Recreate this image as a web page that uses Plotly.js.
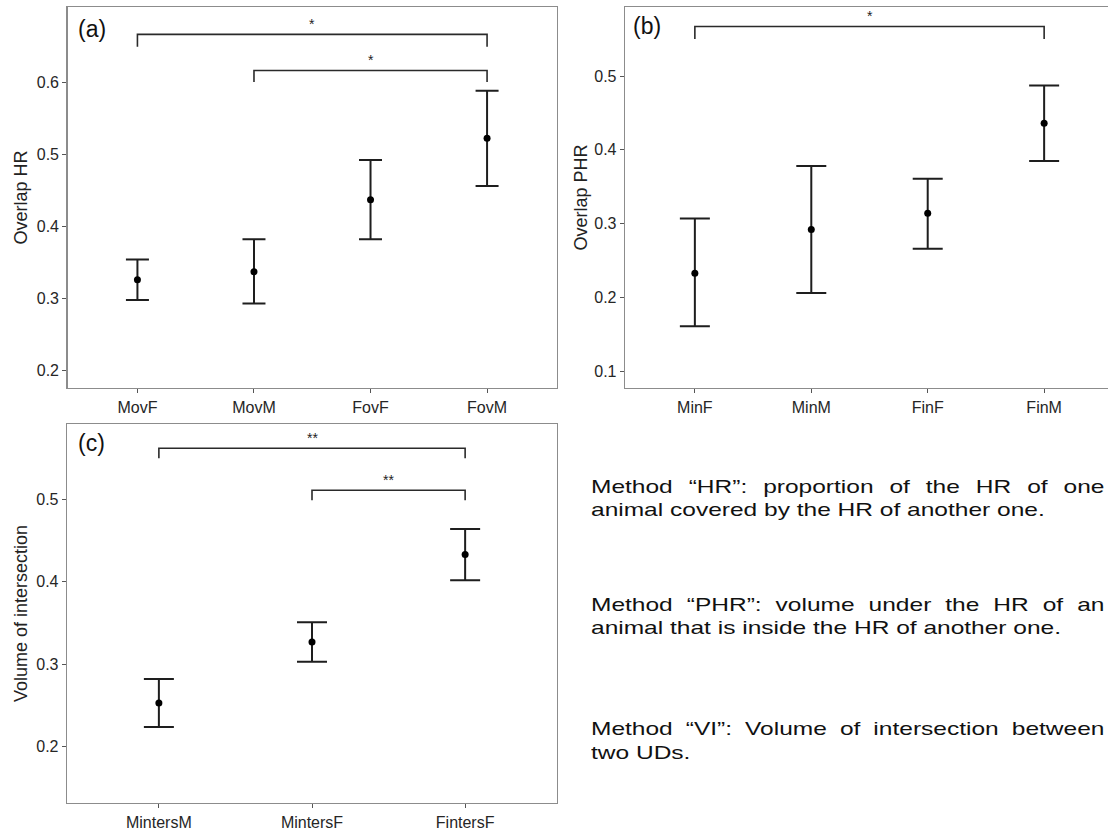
<!DOCTYPE html>
<html>
<head>
<meta charset="utf-8">
<script src="https://cdn.plot.ly/plotly-3.0.1.min.js"></script>
<style>
  html, body { margin: 0; padding: 0; background: #ffffff; overflow: hidden; width: 1108px; height: 830px; }
  #chart { position: absolute; left: 0; top: 0; width: 1116px; height: 830px; }
  .note { position: absolute; left: 591px; width: 398px; transform: scaleX(1.29); transform-origin: 0 0;
          font-family: "Liberation Sans", Arial, sans-serif; font-size: 19px; color: #111; }
  .note div { height: 23.7px; line-height: 23.7px; }
  .note .j { text-align: justify; text-align-last: justify; }
</style>
</head>
<body>
<div id="chart"></div>
<div class="note" style="top:474.5px"><div class="j">Method “HR”: proportion of the HR of one</div><div>animal covered by the HR of another one.</div></div>
<div class="note" style="top:592.5px"><div class="j">Method “PHR”: volume under the HR of an</div><div>animal that is inside the HR of another one.</div></div>
<div class="note" style="top:717.2px"><div class="j">Method “VI”: Volume of intersection between</div><div>two UDs.</div></div>
<script>
// ---- Panel (a): Overlap HR ----
const catsA  = ['MovF', 'MovM', 'FovF', 'FovM'];
const meanA  = [0.326, 0.337, 0.437, 0.522];
const upperA = [0.354, 0.382, 0.492, 0.588];
const lowerA = [0.298, 0.293, 0.382, 0.456];
const brFromA  = ['MovF', 'MovM'];
const brToA    = ['FovM', 'FovM'];
const brTopA   = [0.666, 0.616];
const brLegA   = [0.649, 0.600];
const brLabelA = ['*', '*'];

// ---- Panel (b): Overlap PHR ----
const catsB  = ['MinF', 'MinM', 'FinF', 'FinM'];
const meanB  = [0.233, 0.292, 0.314, 0.436];
const upperB = [0.307, 0.378, 0.361, 0.487];
const lowerB = [0.161, 0.206, 0.266, 0.385];
const brFromB  = ['MinF'];
const brToB    = ['FinM'];
const brTopB   = [0.567];
const brLegB   = [0.550];
const brLabelB = ['*'];

// ---- Panel (c): Volume of intersection ----
const catsC  = ['MintersM', 'MintersF', 'FintersF'];
const meanC  = [0.253, 0.327, 0.433];
const upperC = [0.282, 0.351, 0.464];
const lowerC = [0.224, 0.303, 0.402];
const brFromC  = ['MintersM', 'MintersF'];
const brToC    = ['FintersF', 'FintersF'];
const brTopC   = [0.562, 0.511];
const brLegC   = [0.550, 0.499];
const brLabelC = ['**', '**'];

const FONT = '"Liberation Sans", Arial, sans-serif';
const W = 1116, H = 830;
const px = v => v / W;
const py = v => 1 - v / H;

const traces = [];
const annotations = [];

function addPanel(ax, cats, mean, upper, lower, brFrom, brTo, brTop, brLeg, brLabel, capW) {
  const xa = 'x' + (ax === 1 ? '' : ax), ya = 'y' + (ax === 1 ? '' : ax);
  traces.push({
    type: 'scatter', mode: 'markers', x: cats, y: mean, xaxis: xa, yaxis: ya,
    marker: { color: '#000000', size: 7 },
    error_y: { type: 'data', symmetric: false,
      array: upper.map((u, i) => u - mean[i]),
      arrayminus: lower.map((l, i) => mean[i] - l),
      color: '#1e1e1e', thickness: 2, width: capW },
    showlegend: false, hoverinfo: 'x+y'
  });
  for (let i = 0; i < brFrom.length; i++) {
    traces.push({
      type: 'scatter', mode: 'lines', xaxis: xa, yaxis: ya,
      x: [brFrom[i], brFrom[i], brTo[i], brTo[i]],
      y: [brLeg[i], brTop[i], brTop[i], brLeg[i]],
      line: { color: '#2a2a2a', width: 1.6 }, showlegend: false, hoverinfo: 'skip'
    });
    annotations.push({
      xref: xa, yref: ya,
      x: (cats.indexOf(brFrom[i]) + cats.indexOf(brTo[i])) / 2, y: brTop[i],
      text: brLabel[i], showarrow: false, yanchor: 'middle', yshift: 10.5,
      font: { family: FONT, size: 14, color: '#222' }
    });
  }
}

addPanel(1, catsA, meanA, upperA, lowerA, brFromA, brToA, brTopA, brLegA, brLabelA, 11.5);
addPanel(2, catsB, meanB, upperB, lowerB, brFromB, brToB, brTopB, brLegB, brLabelB, 15);
addPanel(3, catsC, meanC, upperC, lowerC, brFromC, brToC, brTopC, brLegC, brLabelC, 15);

const xBase = {
  type: 'category', showline: true, mirror: true, linecolor: '#8c8c8c', linewidth: 1.3,
  ticks: 'outside', ticklen: 4, tickcolor: '#555', tickwidth: 1,
  showgrid: false, zeroline: false, fixedrange: true,
  tickfont: { family: FONT, size: 16, color: '#262626' }
};
const yBase = {
  showline: true, mirror: true, linecolor: '#8c8c8c', linewidth: 1.3,
  ticks: 'outside', ticklen: 4, tickcolor: '#555', tickwidth: 1,
  showgrid: false, zeroline: false, fixedrange: true, tickformat: '.1f',
  tickfont: { family: FONT, size: 16, color: '#262626' }
};

const layout = {
  width: W, height: H,
  margin: { l: 0, r: 0, t: 0, b: 0 },
  paper_bgcolor: '#ffffff', plot_bgcolor: '#ffffff',
  showlegend: false,
  xaxis:  Object.assign({}, xBase, { domain: [px(67.5), px(557)], range: [-0.6, 3.6], anchor: 'y' }),
  yaxis:  Object.assign({}, yBase, { domain: [py(388), py(7)], range: [0.176, 0.704], anchor: 'x',
            tickvals: [0.2, 0.3, 0.4, 0.5, 0.6],
            title: { text: 'Overlap HR', standoff: 4, font: { family: FONT, size: 18, color: '#222' } } }),
  xaxis2: Object.assign({}, xBase, { domain: [px(625), px(1114)], range: [-0.6, 3.6], anchor: 'y2' }),
  yaxis2: Object.assign({}, yBase, { domain: [py(388), py(7)], range: [0.0774, 0.5935], anchor: 'x2',
            tickvals: [0.1, 0.2, 0.3, 0.4, 0.5],
            title: { text: 'Overlap PHR', standoff: 2, font: { family: FONT, size: 18, color: '#222' } } }),
  xaxis3: Object.assign({}, xBase, { domain: [px(67), px(557)], range: [-0.6, 2.6], anchor: 'y3' }),
  yaxis3: Object.assign({}, yBase, { domain: [py(803), py(424)], range: [0.1317, 0.5914], anchor: 'x3',
            tickvals: [0.2, 0.3, 0.4, 0.5],
            title: { text: 'Volume of intersection', standoff: 4, font: { family: FONT, size: 18, color: '#222' } } }),
  annotations: annotations.concat([
    { xref: 'paper', yref: 'paper', x: px(76), y: py(28.5), xanchor: 'left', yanchor: 'middle',
      text: '(a)', showarrow: false, font: { family: FONT, size: 23, color: '#111' } },
    { xref: 'paper', yref: 'paper', x: px(631), y: py(26), xanchor: 'left', yanchor: 'middle',
      text: '(b)', showarrow: false, font: { family: FONT, size: 23, color: '#111' } },
    { xref: 'paper', yref: 'paper', x: px(76), y: py(443), xanchor: 'left', yanchor: 'middle',
      text: '(c)', showarrow: false, font: { family: FONT, size: 23, color: '#111' } }
  ])
};

Plotly.newPlot('chart', traces, layout, { staticPlot: true, displayModeBar: false });
</script>
</body>
</html>
